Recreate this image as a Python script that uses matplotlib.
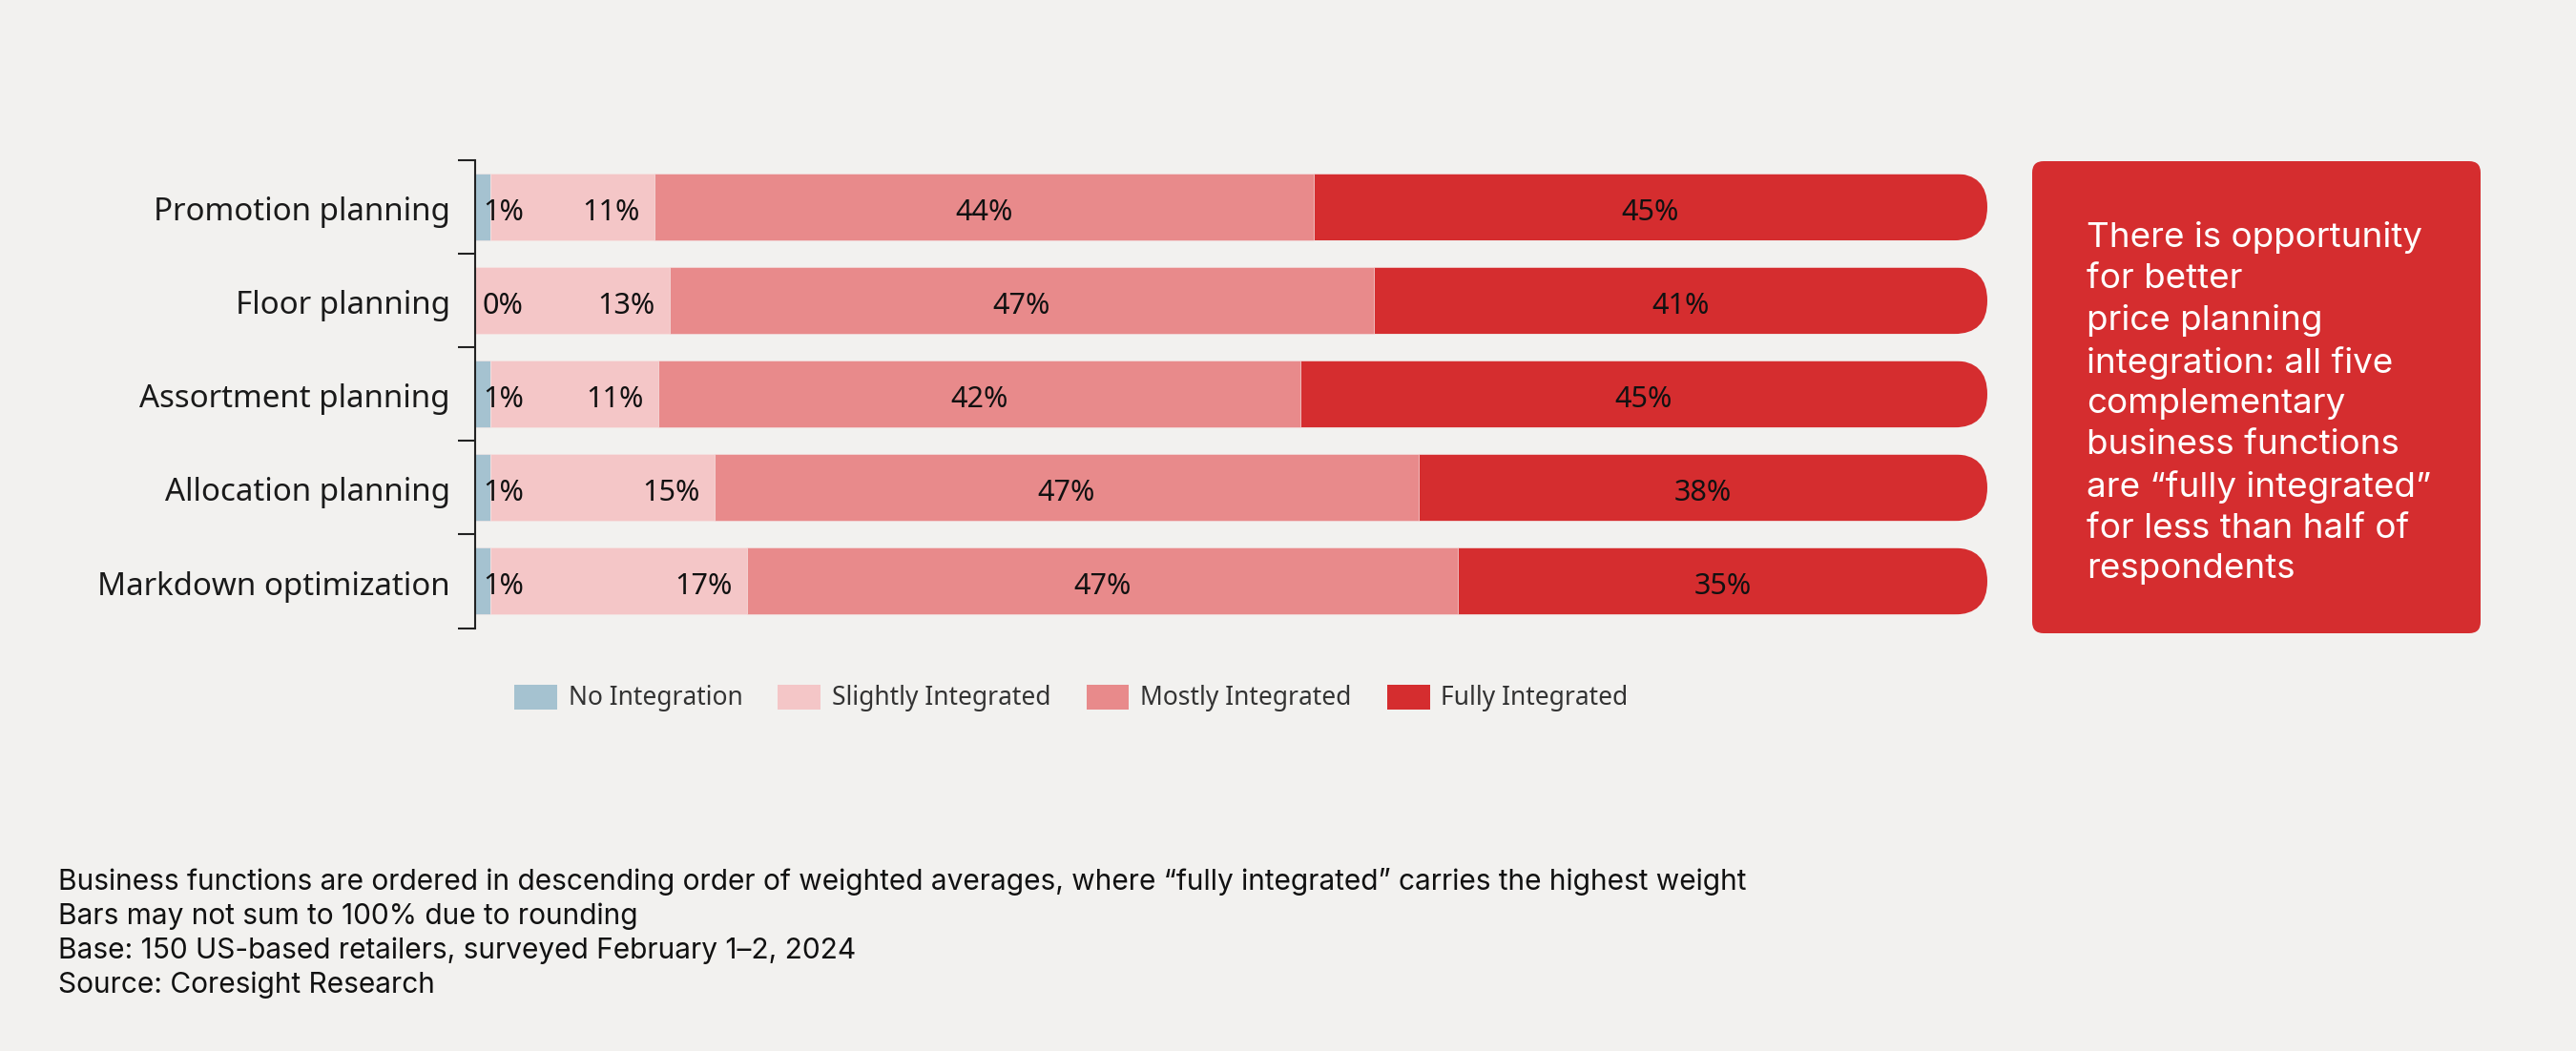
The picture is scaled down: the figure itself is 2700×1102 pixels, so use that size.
import matplotlib
matplotlib.use("Agg")
import matplotlib.pyplot as plt
import matplotlib.transforms as mtransforms
import numpy as np
from matplotlib.patches import FancyBboxPatch

# data
categories = ["Promotion planning", "Floor planning", "Assortment planning",
              "Allocation planning", "Markdown optimization"]
series_names = ["No Integration", "Slightly Integrated", "Mostly Integrated", "Fully Integrated"]
no_integration = [1, 0, 1, 1, 1]
slightly_integrated = [11, 13, 11, 15, 17]
mostly_integrated = [44, 47, 42, 47, 47]
fully_integrated = [45, 41, 45, 38, 35]
colors = ["#A5C2D0", "#F4C6C7", "#E88A8B", "#D52D2F"]

callout = ("There is opportunity\nfor better\nprice planning\nintegration: all five\n"
           "complementary\nbusiness functions\nare \u201cfully integrated\u201d\n"
           "for less than half of\nrespondents")
notes = [
    "Business functions are ordered in descending order of weighted averages, where \u201cfully integrated\u201d carries the highest weight",
    "Bars may not sum to 100% due to rounding",
    "Base: 150 US-based retailers, surveyed February 1\u20132, 2024",
    "Source: Coresight Research",
]

bg = "#F2F1EF"
label_font = "Noto Sans"
W, H = 2700, 1102

fig = plt.figure(figsize=(W / 100, H / 100), dpi=100, facecolor=bg)
ax_l, ax_b, ax_w, ax_h = 498 / W, 1 - 658.5 / H, 1585 / W, 490.5 / H
ax = fig.add_axes([ax_l, ax_b, ax_w, ax_h])
ax.set_facecolor(bg)

vals = np.array([no_integration, slightly_integrated, mostly_integrated, fully_integrated], dtype=float)
shares = vals / vals.sum(axis=0) * 100  # bars are stretched to full width
y = np.arange(len(categories))
bar_h = 0.714

# semicircle end for each bar, used as clip shape
px_per_x = ax_w * W / 100
px_per_y = ax_h * H / 5
r_x = bar_h / 2 * px_per_y / px_per_x
aspect = (bar_h / 2) / r_x

left = np.zeros(len(categories))
bars_by_series = []
for i, name in enumerate(series_names):
    bars = ax.barh(y, shares[i], left=left, height=bar_h, color=colors[i],
                   edgecolor="#F6E6E6", linewidth=0.4, label=name)
    bars_by_series.append(bars)
    left += shares[i]

for j, rect in enumerate(bars_by_series[3]):
    clip = FancyBboxPatch((0, y[j] - bar_h / 2), 100, bar_h,
                          boxstyle=f"round,pad=0,rounding_size={r_x}",
                          mutation_aspect=aspect, transform=ax.transData,
                          facecolor="none", edgecolor="none")
    rect.set_clip_path(clip)

# value labels
cum = np.cumsum(shares, axis=0)
lab_kw = dict(va="center", fontsize=22, family=label_font, color="#111111")
for j in range(len(categories)):
    ty = y[j] + 0.06
    ax.text(0.5, ty, f"{vals[0, j]:.0f}%", ha="left", **lab_kw)
    ax.text(cum[1, j] - 1.0, ty, f"{vals[1, j]:.0f}%", ha="right", **lab_kw)
    ax.text(cum[1, j] + shares[2, j] / 2, ty, f"{vals[2, j]:.0f}%", ha="center", **lab_kw)
    ax.text(cum[2, j] + shares[3, j] / 2, ty, f"{vals[3, j]:.0f}%", ha="center", **lab_kw)

ax.set_xlim(0, 100)
ax.set_ylim(4.5, -0.5)
ax.set_xticks([])
for s in ["top", "right", "bottom"]:
    ax.spines[s].set_visible(False)
ax.spines["left"].set_color("#222222")
ax.spines["left"].set_linewidth(1.5)
ax.set_yticks([])
ax.set_yticks(np.arange(-0.5, 5, 1), minor=True)
ax.tick_params(axis="y", which="minor", length=13, width=1.5, color="#222222")

# category labels, nudged a little below bar centre like the original
cat_tr = mtransforms.offset_copy(ax.get_yaxis_transform(), fig=fig, x=-19, y=-4, units="points")
for j, name in enumerate(categories):
    ax.text(0, y[j], name, transform=cat_tr, ha="right", va="center",
            fontsize=23.8, family=label_font, color="#1A1A1A")

# legend
leg = fig.legend(handles=[b for b in bars_by_series], labels=series_names,
                 loc="center left", bbox_to_anchor=(539 / W, 1 - 732 / H),
                 ncol=4, frameon=False, borderpad=0, borderaxespad=0,
                 handlelength=1.7, handleheight=1.14, handletextpad=0.45,
                 columnspacing=1.4, prop={"family": label_font, "size": 19})
for t in leg.get_texts():
    t.set_color("#333333")
for h in leg.legend_handles:
    h.set_edgecolor("none")

# callout box
box = FancyBboxPatch((2130 / W, 1 - 664 / H), 470 / W, 495 / H,
                     boxstyle=f"round,pad=0,rounding_size={12 / W}",
                     mutation_aspect=W / H, transform=fig.transFigure,
                     facecolor="#D52D2F", edgecolor="none")
fig.add_artist(box)
fig.text(2187 / W, 1 - 232 / H, callout, ha="left", va="top", color="white",
         fontsize=26.5, family="Inter", linespacing=1.37)

# footnotes
for k, line in enumerate(notes):
    fig.text(61 / W, 1 - (933 + 36 * k) / H, line, ha="left", va="baseline",
             fontsize=21.5, family="Inter", color="#111111")

fig.savefig("out.png", dpi=100, facecolor=bg)
